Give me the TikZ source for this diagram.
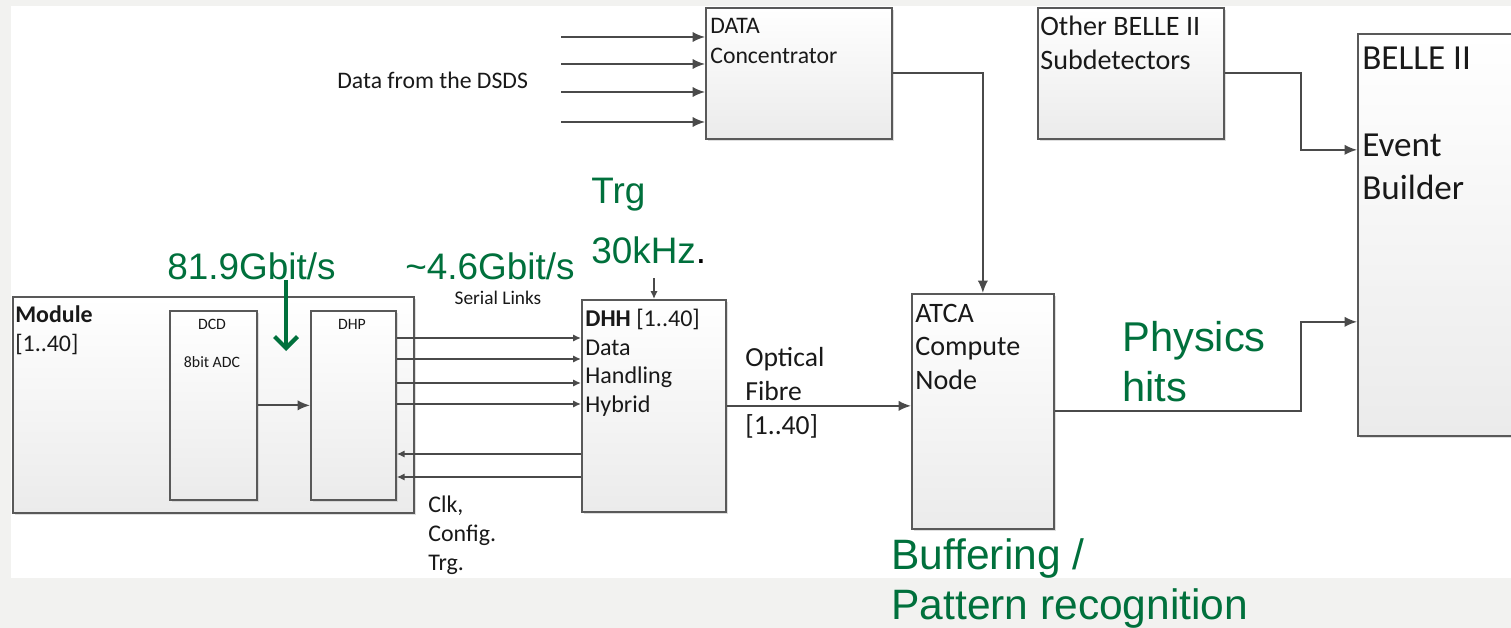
\documentclass[tikz,border=0pt]{standalone}
\usepackage{fontspec}
\setmainfont{Carlito}
\newfontfamily\arialf{Liberation Sans}
\usetikzlibrary{arrows.meta,calc,shadows}
\definecolor{linie}{HTML}{4A4A4A}
\definecolor{rahmen}{HTML}{595959}
\definecolor{kastenu}{HTML}{EBEBEB}
\definecolor{gruen}{HTML}{00703C}
\definecolor{hgrund}{HTML}{F2F2F0}
\tikzset{
  kasten/.style={draw=rahmen,line width=1pt,top color=white,bottom color=kastenu,
    drop shadow={shadow xshift=1.3pt,shadow yshift=-1.3pt,fill=black!25,opacity=0.5},
    anchor=north west,inner sep=0pt},
  pfeil/.style={-{Latex[length=7pt,width=5.8pt]},linie,line width=1pt},
  pfeilk/.style={-{Latex[length=4.5pt,width=4.2pt]},linie,line width=1pt},
  gpfeil/.style={-{Straight Barb[length=6.5pt,width=13pt]},gruen,line width=2.4pt},
  txt/.style={anchor=north west,inner sep=0pt,align=left,text=black!90},
  ktxt/.style={inner sep=0pt,text=black!90,font=\fontsize{9}{11}\selectfont},
  gtxt/.style={inner sep=0pt,align=left,text=gruen},
}

\begin{document}
\begin{tikzpicture}[x=0.02cm,y=-0.02cm]
  % Hintergrund
  \useasboundingbox (0,0) rectangle (1511,628);
  \fill[hgrund] (0,0) rectangle (1511,628);
  \fill[white] (11,6) rectangle (1511,578);
  % Kaesten
  \node[kasten,minimum width=8.02cm,minimum height=4.32cm] (module) at (12,296) {};
  \node[kasten,minimum width=1.74cm,minimum height=3.78cm] (dcd) at (169,310) {};
  \node[kasten,minimum width=1.70cm,minimum height=3.78cm] (dhp) at (310,310) {};
  \node[kasten,minimum width=2.88cm,minimum height=4.24cm] (dhh) at (581,299) {};
  \node[kasten,minimum width=3.72cm,minimum height=2.62cm] (dc) at (705,7) {};
  \node[kasten,minimum width=3.72cm,minimum height=2.62cm] (other) at (1037,7) {};
  \node[kasten,minimum width=2.84cm,minimum height=4.70cm] (atca) at (911,293) {};
  \node[kasten,minimum width=4.00cm,minimum height=8.04cm] (belle) at (1357,33) {};
  % Beschriftungen der Kaesten
  \node[txt,font=\fontsize{13.6}{17}\selectfont] (modt) at (15,305) {\textbf{Module}\\{[1..40]}};
  \node[ktxt] (dcdt) at (212,324) {DCD};
  \node[ktxt] (adct) at (212,362) {8bit ADC};
  \node[ktxt] (dhpt) at (352,324) {DHP};
  \node[txt,font=\fontsize{13.7}{16.2}\selectfont] (dhht) at (585,309)
    {\textbf{DHH} [1..40]\\Data\\Handling\\Hybrid};
  \node[txt,font=\fontsize{13.5}{16.8}\selectfont] (dct) at (710,18) {DATA\\Concentrator};
  \node[txt,font=\fontsize{16}{19.3}\selectfont] (othert) at (1040,16) {Other BELLE II\\Subdetectors};
  \node[txt,font=\fontsize{20}{24.6}\selectfont] (bellet) at (1362,47) {BELLE II\\ \\Event\\Builder};
  \node[txt,font=\fontsize{16}{19}\selectfont] (atcat) at (915,304) {ATCA\\Compute\\Node};
  % Beschriftungen der Leitungen
  \node[txt,font=\fontsize{15.7}{19.3}\selectfont] (optt) at (745,347) {Optical\\Fibre\\{[1..40]}};
  \node[txt,font=\fontsize{13.6}{16.4}\selectfont] (clkt) at (428,496) {Clk,\\Config.\\Trg.};
  \node[ktxt,font=\fontsize{11}{13}\selectfont] (serialt) at (498,298) {Serial Links};
  \node[ktxt,anchor=west,font=\fontsize{13.5}{16}\selectfont] (dsdst) at (337,80) {Data from the DSDS};
  % gruene Angaben
  \node[gtxt,anchor=base west,font=\arialf\fontsize{21}{25}\selectfont] (rate1) at (167,279) {81.9Gbit/s};
  \node[gtxt,anchor=base west,font=\arialf\fontsize{21}{25}\selectfont] (rate2) at (405,279) {\textasciitilde4.6Gbit/s};
  \node[gtxt,anchor=base west,font=\arialf\fontsize{21}{25}\selectfont] (trgt) at (591,204) {Trg};
  \node[gtxt,anchor=base west,font=\arialf\fontsize{21}{25}\selectfont] (khzt) at (591,263) {30kHz{\color{black}.}};
  \node[gtxt,anchor=north west,font=\arialf\fontsize{23.7}{28.7}\selectfont] (physt) at (1122,321) {Physics\\hits};
  \node[gtxt,anchor=north west,font=\arialf\fontsize{24.2}{28.4}\selectfont] (buft) at (891,538)
    {Buffering /\\Pattern recognition};
  % Verbindungen
  \foreach \y [count=\i] in {37,64,92,122} {
    \coordinate (ds\i) at (561,\y);
    \draw[pfeil] (ds\i) -- (ds\i -| dc.west);
  }
  \draw[pfeil] (dc.east) -| (atca.north);
  \draw[pfeil] (other.east) -- ++(76,0) |- ([shift={(0,-85)}]belle.west);
  \draw[pfeil] (atca.east) -- ++(246,0) |- ([shift={(0,87)}]belle.west);
  \draw[pfeil] (dcd.east) -- (dhp.west);
  \foreach \y in {338,359,383,404}
    \draw[pfeilk] (dhp.east |- 0,\y) -- (dhh.west |- 0,\y);
  \foreach \y in {454,477}
    \draw[pfeilk] (dhh.west |- 0,\y) -- (dhp.east |- 0,\y);
  \draw[pfeil] (dhh.east) -- (atca.west |- dhh.east);
  \coordinate (trg) at (654,278);
  \draw[pfeilk] (trg) -- (trg |- dhh.north);
  % gruener Pfeil
  \coordinate (ga) at (286,280);
  \coordinate (gb) at (286,351);
  \draw[gpfeil] (ga) -- (gb);
\end{tikzpicture}
\end{document}
